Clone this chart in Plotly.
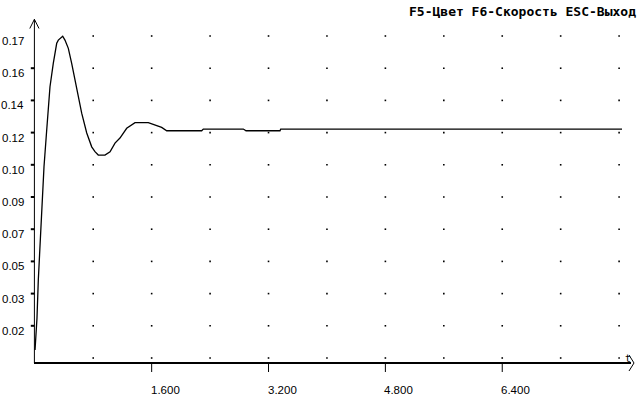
import plotly.graph_objects as go

# ---- data ----
t_vals = [0.003, 0.023, 0.030, 0.048, 0.071, 0.094, 0.108, 0.126, 0.163, 0.208,
          0.253, 0.300, 0.322, 0.382, 0.413, 0.459, 0.505, 0.574, 0.642, 0.711,
          0.779, 0.824, 0.869, 0.961, 1.030, 1.098, 1.166, 1.258, 1.372, 1.554,
          1.646, 1.737, 1.806, 2.285, 2.307, 2.855, 2.892, 3.357, 3.367, 8.040]
y_vals = [0.0043, 0.0166, 0.0214, 0.0417, 0.0594, 0.0774, 0.0897, 0.1022, 0.1218, 0.1449,
          0.1574, 0.1681, 0.1698, 0.1719, 0.1698, 0.1654, 0.1574, 0.1431, 0.1308, 0.1202,
          0.1128, 0.1102, 0.1084, 0.1084, 0.1102, 0.1148, 0.1175, 0.1227, 0.1257, 0.1257,
          0.1244, 0.1232, 0.1214, 0.1214, 0.1223, 0.1223, 0.1214, 0.1214, 0.1223, 0.1223]

y_step = 0.0172
y_tick_labels = ["0.02", "0.03", "0.05", "0.07", "0.09", "0.10", "0.12", "0.14", "0.16", "0.17"]
x_tick_vals = [1.6, 3.2, 4.8, 6.4]
x_tick_labels = ["1.600", "3.200", "4.800", "6.400"]
x_grid_step = 0.8
n_x_grid = 10
title_text = "F5-Цвет F6-Скорость ESC-Выход"
axis_label = "t"

# ---- pixel geometry of the old screen ----
W, H = 640, 400
X0, KX = 34.8, 58.43 / 0.8      # pixel of t=0, pixels per unit t
Y0, KY = 358.0, 32.2 / y_step   # pixel of v=0, pixels per unit v


def tx(px):
    return (px - X0) / KX


def vy(py):
    return (Y0 - py) / KY


x_range = [tx(0), tx(W)]
y_range = [vy(H), vy(0)]

y_tick_vals = [y_step * (i + 1) for i in range(len(y_tick_labels))]

fig = go.Figure()

# dotted grid
gx, gy = [], []
for j in range(1, n_x_grid + 1):
    for i in range(0, len(y_tick_labels) + 1):
        gx.append(x_grid_step * j)
        gy.append(y_step * i)
fig.add_trace(go.Scatter(x=gx, y=gy, mode="markers",
                         marker=dict(symbol="square", size=1.6, color="black", line=dict(width=0)),
                         hoverinfo="skip", showlegend=False))

# curve
fig.add_trace(go.Scatter(x=t_vals, y=y_vals, mode="lines",
                         line=dict(color="black", width=1.3),
                         hoverinfo="skip", showlegend=False))

shapes = []
# y axis + arrow
shapes.append(dict(type="line", x0=tx(34.4), x1=tx(34.4), y0=vy(363), y1=vy(19.3),
                   line=dict(color="black", width=1)))
shapes.append(dict(type="path",
                   path=f"M {tx(29.8)} {vy(28.5)} L {tx(34.4)} {vy(19.3)} L {tx(39)} {vy(28.5)}",
                   line=dict(color="black", width=1)))
# x axis + arrow
shapes.append(dict(type="line", x0=tx(34), x1=tx(631), y0=vy(363), y1=vy(363),
                   line=dict(color="black", width=2)))
shapes.append(dict(type="path",
                   path=f"M {tx(629)} {vy(355)} L {tx(634)} {vy(363)} L {tx(629)} {vy(371)}",
                   line=dict(color="black", width=1)))
# x ticks
for xv in x_tick_vals:
    shapes.append(dict(type="line", x0=xv, x1=xv, y0=vy(363), y1=vy(372),
                       line=dict(color="black", width=1)))
# y ticks
for yv in y_tick_vals[:-1]:
    shapes.append(dict(type="line", x0=tx(30.8), x1=tx(34.4), y0=yv, y1=yv,
                       line=dict(color="black", width=2)))

annotations = []
lab_font = dict(family="Liberation Sans, Arial, sans-serif", size=11.5, color="black")
for yv, lab in zip(y_tick_vals, y_tick_labels):
    annotations.append(dict(x=tx(24.5), y=yv, xref="x", yref="y", text=lab, showarrow=False,
                            xanchor="right", yanchor="middle", yshift=-5, borderpad=0,
                            font=lab_font))
xlab_font = dict(family="Liberation Sans, Arial, sans-serif", size=11.5, color="black")
for xv, lab in zip(x_tick_vals, x_tick_labels):
    annotations.append(dict(x=xv, y=vy(390), xref="x", yref="y", text=lab, showarrow=False,
                            xanchor="left", yanchor="middle", xshift=-2, borderpad=0,
                            font=xlab_font))
annotations.append(dict(x=tx(627.5), y=vy(358), xref="x", yref="y", text=axis_label, showarrow=False,
                        xanchor="center", yanchor="middle", borderpad=0,
                        font=dict(family="DejaVu Sans Mono", size=10, color="black")))
annotations.append(dict(x=tx(637), y=vy(11.5), xref="x", yref="y", text=title_text, showarrow=False,
                        xanchor="right", yanchor="middle", borderpad=0,
                        font=dict(family="DejaVu Sans Mono", size=13, color="black", weight="bold")))

fig.update_layout(
    width=W, height=H,
    margin=dict(l=0, r=0, t=0, b=0),
    paper_bgcolor="white", plot_bgcolor="white",
    xaxis=dict(range=x_range, showgrid=False, zeroline=False, showline=False,
               showticklabels=False, ticks="", fixedrange=True),
    yaxis=dict(range=y_range, showgrid=False, zeroline=False, showline=False,
               showticklabels=False, ticks="", fixedrange=True),
    shapes=shapes,
    annotations=annotations,
    showlegend=False,
)

fig.write_html("out.html",
               config={"displayModeBar": False},
               post_script="document.body.style.margin='0';document.body.style.overflow='hidden';")
